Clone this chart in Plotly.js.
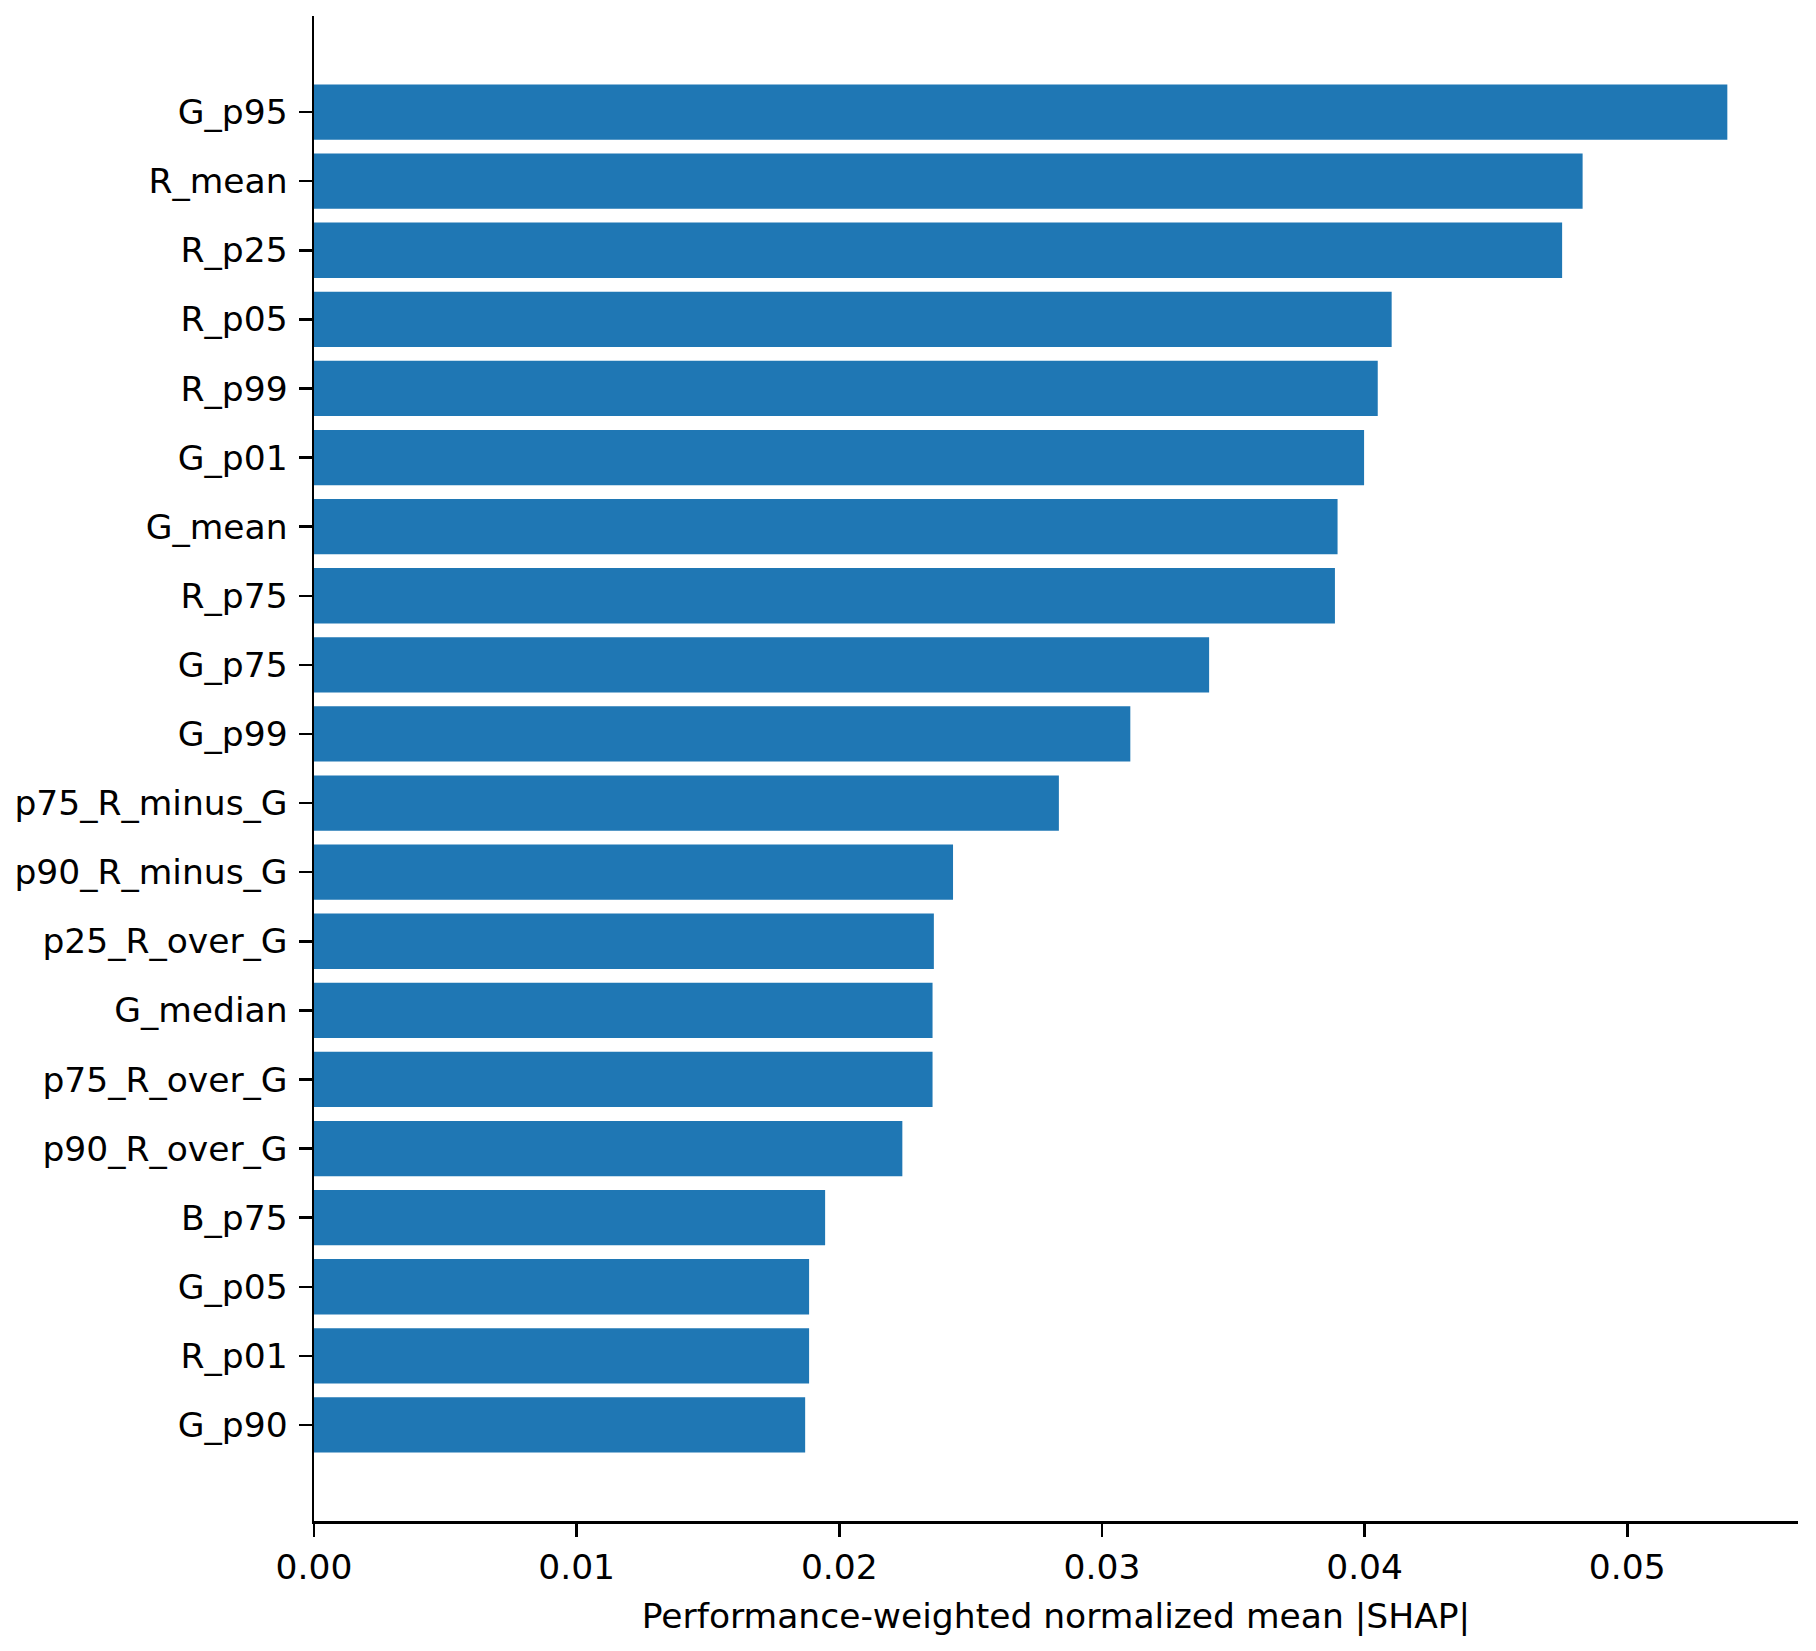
<!DOCTYPE html>
<html>
<head>
<meta charset="utf-8">
<script src="https://cdn.plot.ly/plotly-3.0.1.min.js"></script>
<style>
  html, body { margin: 0; padding: 0; background: #fff; }
  #chart { width: 1816px; height: 1651px; }
</style>
</head>
<body>
<div id="chart"></div>
<script>
// features, top to bottom
const features = [
  'G_p95', 'R_mean', 'R_p25', 'R_p05', 'R_p99',
  'G_p01', 'G_mean', 'R_p75', 'G_p75', 'G_p99',
  'p75_R_minus_G', 'p90_R_minus_G', 'p25_R_over_G', 'G_median', 'p75_R_over_G',
  'p90_R_over_G', 'B_p75', 'G_p05', 'R_p01', 'G_p90'
];

// performance-weighted normalized mean |SHAP|
const shapValues = [
  0.05381, 0.04830, 0.04752, 0.04103, 0.04050,
  0.03998, 0.03897, 0.03887, 0.03408, 0.03108,
  0.02836, 0.02433, 0.02360, 0.02355, 0.02355,
  0.02240, 0.01946, 0.01885, 0.01885, 0.01870
];

const xTicks = [0, 0.01, 0.02, 0.03, 0.04, 0.05];
const xTickLabels = ['0.00', '0.01', '0.02', '0.03', '0.04', '0.05'];

const font = { family: 'DejaVu Sans, sans-serif', size: 34.5, color: '#000' };

const data = [{
  type: 'bar',
  orientation: 'h',
  x: shapValues,
  y: features,
  marker: { color: '#1f77b4' },
  hoverinfo: 'x+y'
}];

// matplotlib style padding: 5% of the data span on each side
const n = features.length;
const yPad = (n - 1 + 0.8) * 0.05;
const xMax = Math.max(...shapValues) * 1.05;

const layout = {
  width: 1816,
  height: 1651,
  margin: { l: 314, r: 18, t: 16, b: 130 },
  paper_bgcolor: '#fff',
  plot_bgcolor: '#fff',
  font: font,
  showlegend: false,
  bargap: 0.2,
  xaxis: {
    range: [0, xMax],
    tickvals: xTicks,
    ticktext: xTickLabels,
    ticks: 'outside',
    ticklen: 13,
    tickwidth: 2.5,
    tickcolor: '#000',
    showline: true,
    linecolor: '#000',
    linewidth: 2.5,
    showgrid: false,
    zeroline: false,
    tickfont: font,
    ticklabelstandoff: 1,
    title: { text: 'Performance-weighted normalized mean |SHAP|', font: font, standoff: 18 }
  },
  yaxis: {
    type: 'category',
    categoryorder: 'array',
    categoryarray: features,
    range: [n - 1 + 0.4 + yPad, -0.4 - yPad],
    ticks: 'outside',
    ticklen: 13,
    tickwidth: 2.5,
    tickcolor: '#000',
    showline: true,
    linecolor: '#000',
    linewidth: 2.5,
    showgrid: false,
    zeroline: false,
    tickfont: font,
    ticklabelstandoff: 4
  }
};

Plotly.newPlot('chart', data, layout, { displayModeBar: false, staticPlot: true });
</script>
</body>
</html>
